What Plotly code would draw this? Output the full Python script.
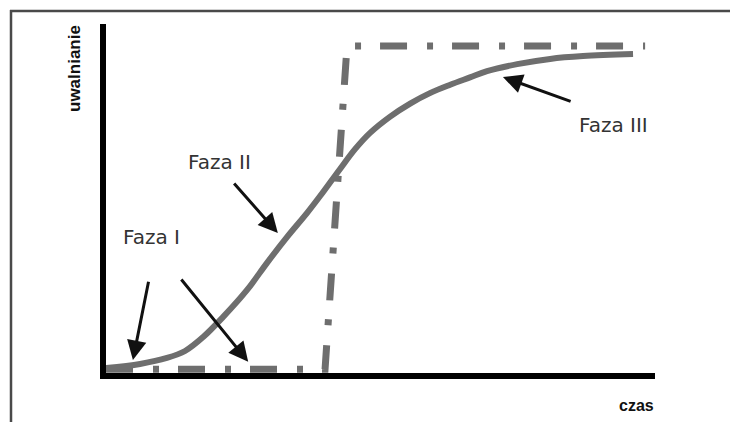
import plotly.graph_objects as go

# ---- data (time in arbitrary units 0-10, release in % 0-100) ----
czas_krzywa = [0.00, 0.62, 1.11, 1.44, 1.77, 2.13, 2.57, 2.93, 3.30, 3.66, 3.90,
               4.26, 4.54, 4.81, 5.17, 5.54, 5.90, 6.27, 6.63, 6.94, 7.49, 8.09,
               8.69, 9.60]
uwalnianie_krzywa = [1.4, 2.6, 4.3, 6.3, 10.3, 16.0, 23.8, 31.5, 39.0, 45.8, 50.7,
                     58.4, 64.2, 68.8, 73.4, 77.2, 80.2, 82.6, 84.7, 86.5, 88.5, 90.0,
                     90.8, 91.4]

czas_skok = [0.00, 3.99, 4.39, 9.82]
uwalnianie_skok = [1.1, 1.1, 93.7, 93.7]

etykiety = ["Faza I", "Faza II", "Faza III"]
etykiety_x = [0.82, 2.07, 9.24]
etykiety_y = [39.0, 60.6, 71.2]

# arrows: (tail -> head)
strzalka_od_x = [0.78, 1.35, 2.31, 8.49]
strzalka_od_y = [26.6, 27.2, 54.7, 77.7]
strzalka_do_x = [0.49, 2.59, 3.13, 7.23]
strzalka_do_y = [3.7, 3.2, 40.1, 84.8]

os_x_tytul = "czas"
os_y_tytul = "uwalnianie"

GRAY = "#6e6e6e"

fig = go.Figure()
fig.add_trace(go.Scatter(
    x=czas_skok, y=uwalnianie_skok, mode="lines",
    line=dict(color=GRAY, width=7, dash="27px,20px,6px,19px"),
    hoverinfo="skip", showlegend=False, cliponaxis=False))
fig.add_trace(go.Scatter(
    x=czas_krzywa, y=uwalnianie_krzywa, mode="lines",
    line=dict(color=GRAY, width=6, shape="spline", smoothing=1.0),
    hoverinfo="skip", showlegend=False, cliponaxis=False))

annotations = []
for t, x, y in zip(etykiety, etykiety_x, etykiety_y):
    annotations.append(dict(x=x, y=y, xref="x", yref="y", text=t, showarrow=False,
                            xanchor="center", yanchor="middle",
                            font=dict(family="DejaVu Sans", size=20, color="#333333")))
for x0, y0, x1, y1 in zip(strzalka_od_x, strzalka_od_y, strzalka_do_x, strzalka_do_y):
    annotations.append(dict(x=x1, y=y1, ax=x0, ay=y0, xref="x", yref="y",
                            axref="x", ayref="y", text="", showarrow=True,
                            arrowhead=2, arrowsize=1.3, arrowwidth=3,
                            arrowcolor="#111111", standoff=0))

# layout geometry (reference pixels; page body adds an 8px margin)
OFF = 8
L, R, T, B = 106, 655, 24, 373
W, H = 738 - OFF, 430 - 2 * OFF
pw, ph = R - L, B - T

annotations.append(dict(x=(636 - L) / pw, y=(B - 405) / ph, xref="paper", yref="paper",
                        text=os_x_tytul, showarrow=False,
                        xanchor="center", yanchor="middle",
                        font=dict(family="Liberation Sans", size=16, color="#111111",
                                  weight="bold")))
annotations.append(dict(x=(75 - L) / pw, y=(B - 69) / ph, xref="paper", yref="paper",
                        text=os_y_tytul, showarrow=False, textangle=-90,
                        xanchor="center", yanchor="middle",
                        font=dict(family="Liberation Sans", size=17, color="#111111",
                                  weight="bold")))

shapes = [
    dict(type="line", xref="paper", yref="paper",
         x0=(11 - L) / pw, x1=(11 - L) / pw, y0=(B - 10) / ph, y1=(B - 440) / ph,
         line=dict(color="#4a4a4a", width=2.5)),
    dict(type="line", xref="paper", yref="paper",
         x0=(10 - L) / pw, x1=(750 - L) / pw, y0=(B - 11) / ph, y1=(B - 11) / ph,
         line=dict(color="#4a4a4a", width=2.5)),
]

fig.update_layout(
    width=W, height=H,
    margin=dict(l=L - OFF, r=W - (R - OFF), t=T - OFF, b=H - (B - OFF), pad=0),
    paper_bgcolor="white", plot_bgcolor="white",
    xaxis=dict(range=[0, 10], showgrid=False, zeroline=False, showticklabels=False,
               ticks="", showline=True, linecolor="black", linewidth=6, fixedrange=True),
    yaxis=dict(range=[0, 100], showgrid=False, zeroline=False, showticklabels=False,
               ticks="", showline=True, linecolor="black", linewidth=6, fixedrange=True),
    annotations=annotations, shapes=shapes,
)

fig.write_html("out.html", config={"displayModeBar": False},
               post_script="document.documentElement.style.overflow='hidden';"
                           "document.body.style.overflow='hidden';")
